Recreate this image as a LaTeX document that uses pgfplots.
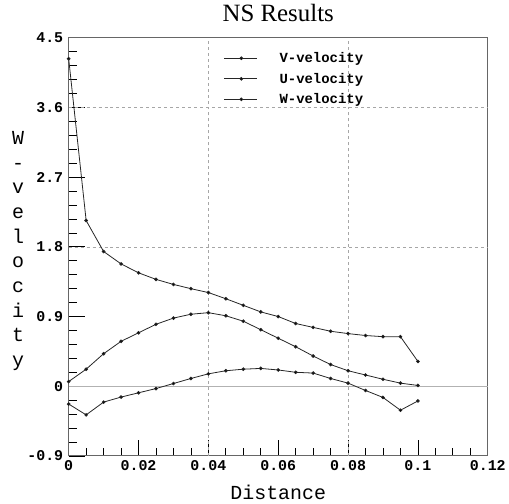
\documentclass[border=0pt]{standalone}
\usepackage{fontspec}
\setmainfont{Liberation Serif}
\setmonofont{Liberation Mono}
\usepackage{pgfplots}
\pgfplotsset{compat=1.18}

\begin{document}
\begin{tikzpicture}
\begin{axis}[
  name=main,
  scale only axis, width=421pt, height=420pt,
  xmin=0, xmax=0.12, ymin=-0.9, ymax=4.5,
  xtick={0,0.02,0.04,0.06,0.08,0.1,0.12},
  xticklabels={0,0.02,0.04,0.06,0.08,0.1,0.12},
  ytick={-0.9,0,0.9,1.8,2.7,3.6,4.5},
  yticklabels={-0.9,0,0.9,1.8,2.7,3.6,4.5},
  minor x tick num=3, minor y tick num=4,
  tick align=inside, xtick pos=bottom, ytick pos=left,
  major tick length=16pt, minor tick length=8pt,
  every tick/.style={black, line width=0.8pt},
  axis line style={black!60, line width=0.9pt},
  tick label style={font=\ttfamily\bfseries\fontsize{15}{15}\selectfont},
  xticklabel style={yshift=-1pt},
  yticklabel style={xshift=-2pt},
  extra x ticks={0.04,0.08}, extra x tick labels={},
  extra y ticks={1.8,3.6}, extra y tick labels={},
  extra tick style={grid=major, major tick length=0pt,
    major grid style={black!35, dash pattern=on 3pt off 3pt, line width=0.7pt}},
  title={NS Results},
  title style={font=\fontsize{25}{25}\selectfont, at={(0.5,1)}, anchor=south, yshift=10pt, inner sep=0pt},
  xlabel={Distance},
  xlabel style={font=\ttfamily\fontsize{20}{20}\selectfont, at={(axis description cs:0.5,-0.088)}, anchor=center},
  ylabel={W\\-\\v\\e\\l\\o\\c\\i\\t\\y},
  ylabel style={rotate=-90, align=center, font=\ttfamily\fontsize{20}{24.8}\selectfont, at={(axis description cs:-0.121,0.49)}, anchor=center},
  legend style={at={(0.363,0.975)}, anchor=north west, draw=none, fill=none,
    font=\ttfamily\bfseries\fontsize{14}{14}\selectfont, row sep=5pt},
  legend cell align=left,
  legend image code/.code={\path (0pt,0pt) (53pt,0pt);\draw[#1, mark repeat=2, mark phase=2] plot coordinates {(0pt,0pt) (17pt,0pt) (33pt,0pt)};},
  vel/.style={black!85, line width=0.8pt, mark=*, mark size=1.4pt, mark options={solid, fill=black}},
]
\addplot[gray!60, line width=0.8pt, no marks, forget plot] coordinates {(0,0) (0.12,0)};
\addplot[vel] coordinates {
  (0,4.23) (0.005,2.14) (0.01,1.74) (0.015,1.58) (0.02,1.465) (0.025,1.38)
  (0.03,1.315) (0.035,1.26) (0.04,1.21) (0.045,1.13) (0.05,1.045) (0.055,0.96)
  (0.06,0.90) (0.065,0.81) (0.07,0.76) (0.075,0.71) (0.08,0.68) (0.085,0.655)
  (0.09,0.64) (0.095,0.64) (0.1,0.32)};
\addlegendentry{V-velocity}
\addplot[vel] coordinates {
  (0,0.06) (0.005,0.22) (0.01,0.42) (0.015,0.58) (0.02,0.69) (0.025,0.80)
  (0.03,0.88) (0.035,0.93) (0.04,0.95) (0.045,0.91) (0.05,0.84) (0.055,0.73)
  (0.06,0.62) (0.065,0.51) (0.07,0.39) (0.075,0.28) (0.08,0.20) (0.085,0.145)
  (0.09,0.09) (0.095,0.04) (0.1,0.01)};
\addlegendentry{U-velocity}
\addplot[vel] coordinates {
  (0,-0.23) (0.005,-0.37) (0.01,-0.205) (0.015,-0.14) (0.02,-0.085) (0.025,-0.03)
  (0.03,0.035) (0.035,0.10) (0.04,0.16) (0.045,0.20) (0.05,0.22) (0.055,0.23)
  (0.06,0.21) (0.065,0.18) (0.07,0.17) (0.075,0.10) (0.08,0.04) (0.085,-0.055)
  (0.09,-0.145) (0.095,-0.31) (0.1,-0.19)};
\addlegendentry{W-velocity}
\end{axis}
\path (main.south west) ++(-69pt,-45pt) rectangle ++(509pt,503pt);
\end{tikzpicture}
\end{document}
